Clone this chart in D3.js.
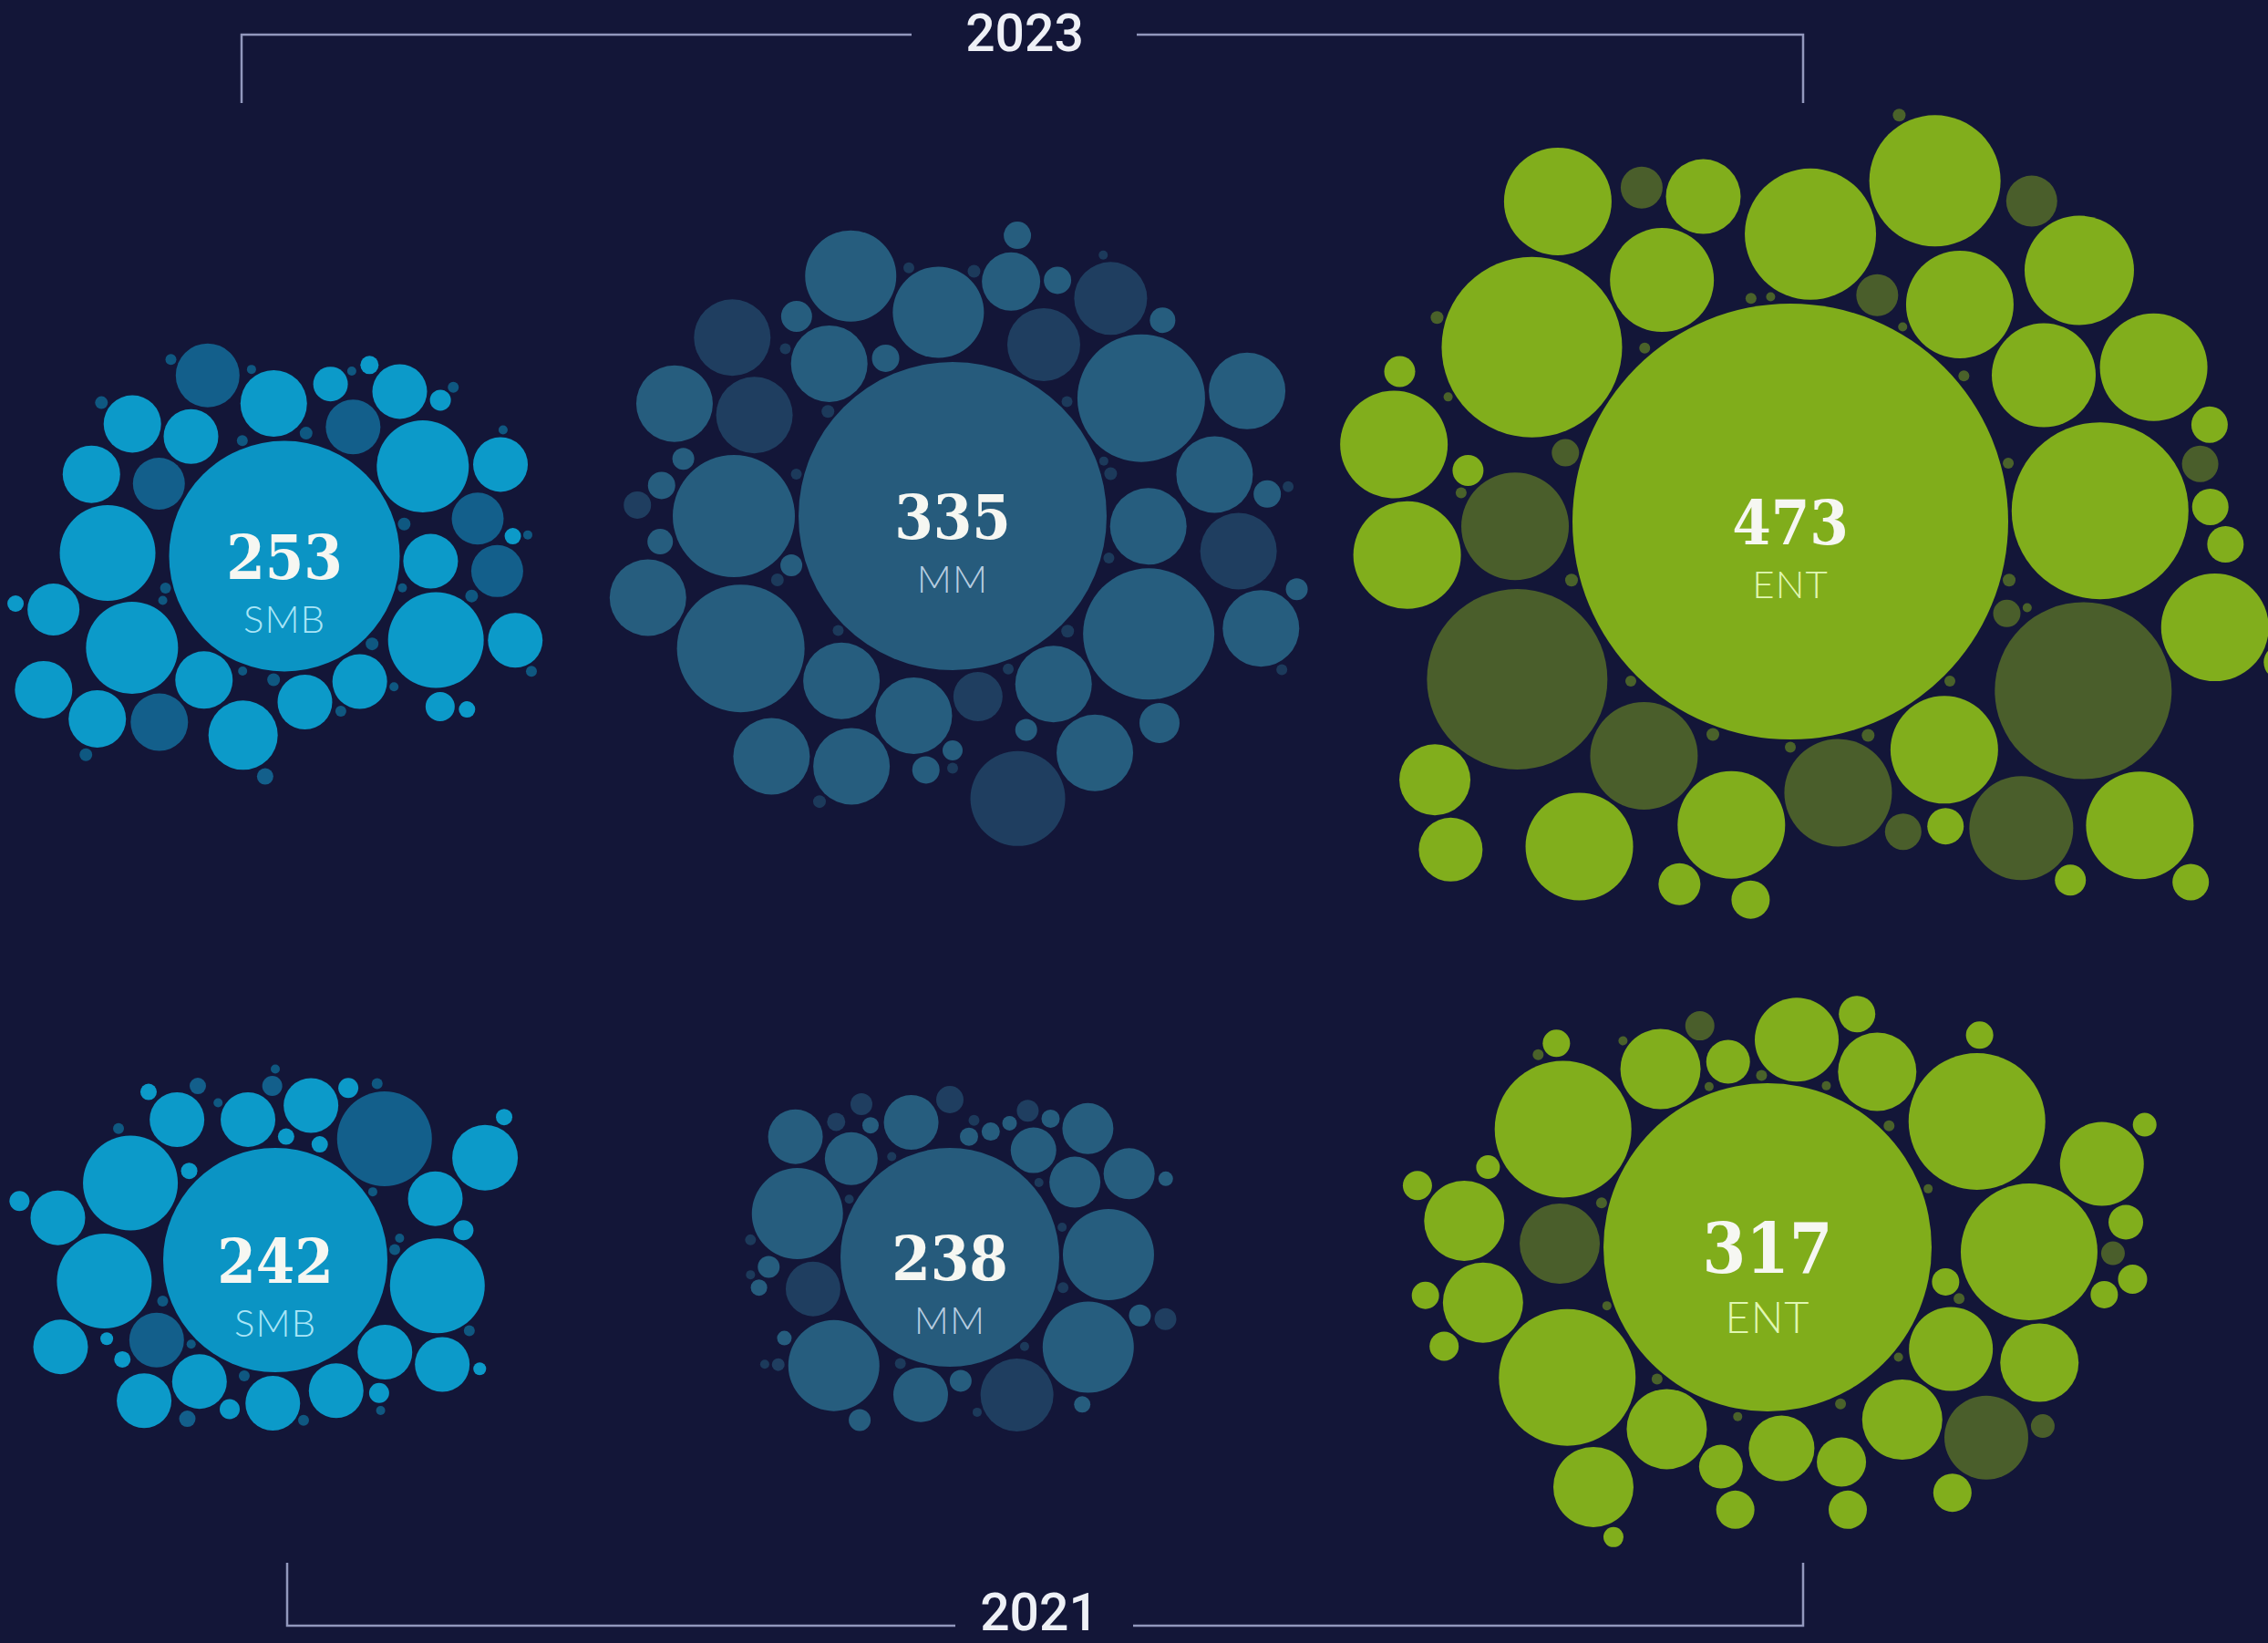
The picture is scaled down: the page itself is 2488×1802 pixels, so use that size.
<!DOCTYPE html>
<meta charset="utf-8">
<style>
  body { margin: 0; background: #131638; }
  svg { display: block; }
  .num {
    font-family: "DejaVu Serif Condensed", "DejaVu Serif", serif;
    font-stretch: condensed;
    font-weight: bold;
    font-size: 68px;
    fill: #f6f7f2;
    text-anchor: middle;
  }
  .seg {
    font-family: Lato, "Open Sans", sans-serif;
    font-weight: 300;
    font-size: 42px;
    letter-spacing: 1px;
    text-anchor: middle;
  }
  .year {
    font-family: Roboto, sans-serif;
    font-weight: 500;
    font-size: 57px;
    fill: #eef0f6;
    text-anchor: middle;
  }
  .bracket { fill: none; stroke: #9298bd; stroke-width: 2.5; }
</style>
<body>
<script src="https://d3js.org/d3.v7.min.js"></script>
<script>
var width = 2488, height = 1802;

var segments = ['SMB', 'MM', 'ENT'];
var years = ['2023', '2021'];
var totals2023 = [253, 335, 473];
var totals2021 = [242, 238, 317];
// size of the centre bubble as drawn (same units as the satellites)
var coreSize2023 = [253, 338, 478];
var coreSize2021 = [246, 240, 360];

// satellites: [angle in degrees (0 = east, clockwise), size, shade]
// shade 0 = segment colour, 1 = dark, 2 = faint filler dot
// listed in placement order: inner ring, outer ring, small, filler
var smb2023 = [
  [-94,73,0],[-62,60,1],[-33,101,0],[2,60,0],[29,105,0],[59,60,0],[82,60,0],[123,63,0],[149,101,0],[-179,105,0],[-150,57,1],[-128,60,0],
  [-113,70,1],[-75,38,0],[-55,60,0],[-23,60,0],[-11,57,1],[4,57,1],[20,60,0],[44,32,0],[103,76,0],[127,63,1],[139,63,0],[151,63,0],[167,57,0],[-157,63,0],[-139,63,0],
  [-45,23,0],[-66,20,0],[170,18,0],[95,18,1],[40,18,0],[-5,18,0],
  [-140,14,2],[-110,12,2],[-80,14,2],[-70,10,2],[-45,12,2],[-15,14,2],[-5,10,2],[12,14,2],[15,10,2],[45,14,2],[50,10,2],[70,12,2],[95,14,2],[110,10,2],[135,14,2],[165,12,2],[-100,10,2],[-30,10,2],[25,12,2],[160,10,2],[-120,12,2]
];
var mm2023 = [
  [-94,100,0],[-62,80,1],[-32,140,0],[3,84,0],[31,144,0],[59,84,0],[82,54,1],[101,84,0],[124,84,0],[148,140,0],[180,134,0],[-153,84,1],[-129,84,0],
  [-113,100,0],[-76,64,0],[-66,30,0],[-54,80,1],[-23,84,0],[-9,84,0],[7,84,1],[20,84,0],[45,44,0],[59,84,0],[77,104,1],[112,84,0],[127,84,0],[165,84,0],[-158,84,0],[-141,84,1],
  [-128,34,0],[-113,30,0],[-77,30,0],[-43,28,0],[-4,30,0],[12,24,0],[71,24,0],[90,22,0],[96,30,0],[-174,30,0],[-178,30,1],[175,28,0],[-168,24,0],[163,24,0],
  [-140,14,2],[-100,12,2],[-85,14,2],[-45,12,2],[-15,14,2],[-5,12,2],[15,12,2],[45,14,2],[70,12,2],[90,12,2],[115,14,2],[135,12,2],[160,14,2],[-165,12,2],[-135,12,2],[-60,10,2],[25,12,2],[-20,10,2]
];
var ent2023 = [
  [-146,198,0],[-118,114,0],[-86,144,0],[-52,118,0],[-30,114,0],[-2,194,0],[30,194,1],[56,118,0],[80,118,1],[122,118,1],[150,198,1],[179,118,1],
  [-126,118,0],[-105,82,0],[-67,144,0],[-41,120,0],[-23,118,0],[14,118,0],[41,118,0],[53,114,1],[101,118,0],[123,118,0],[144,78,0],[136,70,0],[175,118,0],[-169,118,0],
  [-2,40,0],[3,40,0],[-8,40,1],[-13,40,0],[63,40,0],[70,40,1],[96,42,0],[107,46,0],[-53,56,1],[-69,46,1],[-114,46,1],[-163,30,1],[23,30,1],[52,34,0],[-171,34,0],[42,40,0],[16,38,0],[-159,34,0],
  [-150,14,2],[-130,12,2],[-100,12,2],[-75,14,2],[-40,12,2],[-15,12,2],[15,14,2],[20,10,2],[45,12,2],[70,14,2],[90,12,2],[110,14,2],[135,12,2],[165,14,2],[-175,12,2],[-160,10,2],[-95,10,2],[-60,10,2]
];
var smb2021 = [
  [-152,104,0],[-125,60,0],[-101,60,0],[-48,104,1],[-21,60,0],[9,104,0],[40,60,0],[65,60,0],[91,60,0],[122,60,0],[146,60,1],[173,104,0],
  [-85,18,0],[-69,18,0],
  [-77,60,0],[-26,72,0],[32,60,0],[133,60,0],[158,60,0],[-169,60,0],
  [-67,22,0],[-91,22,1],[52,22,0],[-167,22,0],[-134,18,0],[-9,22,0],[107,22,0],[119,18,1],[-114,18,1],[-127,18,0],[-32,18,0],[28,14,0],[155,14,0],[147,18,0],
  [-140,12,2],[-110,10,2],[-60,12,2],[-35,10,2],[-5,12,2],[20,12,2],[55,10,2],[80,12,2],[105,12,2],[135,10,2],[160,12,2],[-90,10,2],[-10,10,2]
];
var mm2021 = [
  [-164,100,0],[-135,58,0],[-106,60,0],[-52,50,0],[-31,56,0],[-1,100,0],[33,100,0],[64,80,1],[102,60,0],[137,100,0],[167,60,1],
  [-142,60,0],[-43,56,0],[-25,56,0],
  [177,24,0],[-90,30,1],[-81,20,0],[-72,20,0],[-66,16,0],[-54,20,0],[-121,18,0],[-120,24,1],[-130,20,1],[17,24,0],[16,24,1],[119,24,0],[85,24,0],[48,18,0],[148,14,1],[154,16,0],[-20,16,0],[-62,24,1],[171,18,0],
  [-150,10,2],[-120,10,2],[-80,12,2],[-40,10,2],[-15,10,2],[15,12,2],[50,10,2],[80,10,2],[115,12,2],[150,10,2],[175,10,2],[-175,12,2]
];
var ent2021 = [
  [-150,150,0],[-121,88,0],[-102,48,0],[-82,92,0],[-58,86,0],[-31,150,0],[1,150,0],[29,92,0],[52,88,0],[86,72,0],[119,88,0],[147,150,0],[-179,88,1],
  [-69,40,0],[-14,92,0],[23,86,0],[41,92,1],[71,54,0],[102,48,0],[126,88,0],[169,88,0],[-175,88,0],
  [1,26,1],[-4,38,0],[-18,26,0],[8,30,0],[5,32,0],[-107,32,1],[-136,30,0],[53,42,0],[97,42,0],[73,42,0],[-164,26,0],[-170,32,0],[163,32,0],[172,30,0],[11,30,0],[33,26,1],[-45,30,0],[118,22,0],
  [-140,12,2],[-110,10,2],[-92,12,2],[-70,10,2],[-45,12,2],[-20,10,2],[15,12,2],[40,10,2],[65,12,2],[100,10,2],[130,12,2],[160,10,2],[-165,12,2],[-125,10,2]
];

var satellites = {
  '2023': { SMB: smb2023, MM: mm2023, ENT: ent2023 },
  '2021': { SMB: smb2021, MM: mm2021, ENT: ent2021 }
};

// where each cluster's centre bubble sits on the page
var anchor = {
  '2023': { SMB: [312, 610], MM: [1045, 566], ENT: [1964, 572] },
  '2021': { SMB: [302, 1382], MM: [1042, 1379], ENT: [1939, 1368] }
};

var palette = {
  SMB: { core: '#0b94c4', light: '#0c9ac9', dark: '#135f8b', label: '#a9e5f7' },
  MM:  { core: '#265b7c', light: '#265d7e', dark: '#1f3e60', label: '#b7cde0' },
  ENT: { core: '#80ad1b', light: '#81ae1c', dark: '#4a5e2b', label: '#e0f7b2' }
};

var rScale = d3.scaleLinear().domain([0, 500]).range([0, 250]);

// place each satellite on its bearing, as close to the centre as it fits
function place(R, items) {
  var placed = [{ x: 0, y: 0, r: R }];
  var out = [];
  items.forEach(function (d) {
    var a = d[0] * Math.PI / 180, r = rScale(d[1]);
    var gap = d[2] === 2 ? 2.5 : 4;
    for (var dist = R + r + gap; dist < R + 900; dist += 1) {
      var x = dist * Math.cos(a), y = dist * Math.sin(a);
      var ok = placed.every(function (p) {
        return Math.hypot(p.x - x, p.y - y) >= p.r + r + gap;
      });
      if (ok) {
        var c = { x: x, y: y, r: r, shade: d[2] };
        placed.push(c);
        out.push(c);
        break;
      }
    }
  });
  return out;
}

var clusters = [];
years.forEach(function (yr) {
  var totals = yr === '2023' ? totals2023 : totals2021;
  var cores = yr === '2023' ? coreSize2023 : coreSize2021;
  segments.forEach(function (s, i) {
    clusters.push({ year: yr, seg: s, total: totals[i], core: cores[i] });
  });
});

var svg = d3.select('body').append('svg')
    .attr('width', width)
    .attr('height', height);

svg.append('rect')
    .attr('width', width)
    .attr('height', height)
    .attr('fill', '#131638');

var g = svg.selectAll('g.cluster')
    .data(clusters)
  .enter().append('g')
    .attr('class', 'cluster')
    .attr('transform', function (d) {
      var p = anchor[d.year][d.seg];
      return 'translate(' + p[0] + ',' + p[1] + ')';
    });

g.each(function (d) {
  var R = rScale(d.core);
  var col = palette[d.seg];
  var sel = d3.select(this);
  var sats = place(R, satellites[d.year][d.seg]);

  sel.selectAll('circle.sat')
      .data(sats)
    .enter().append('circle')
      .attr('class', 'sat')
      .attr('cx', function (c) { return c.x; })
      .attr('cy', function (c) { return c.y; })
      .attr('r', function (c) { return c.r; })
      .attr('fill', function (c) { return c.shade === 1 ? col.dark : col.light; })
      .attr('opacity', function (c) { return c.shade === 2 ? 0.5 : 1; });

  sel.append('circle')
      .attr('r', R)
      .attr('fill', col.core);

  // the larger 2021 ENT bubble carries slightly larger type
  var k = d.year === '2021' && d.seg === 'ENT' ? 1.12 : 1;

  sel.append('text')
      .attr('class', 'num')
      .attr('y', 25 * k)
      .style('font-size', (68 * k) + 'px')
      .text(d.total);

  sel.append('text')
      .attr('class', 'seg')
      .attr('y', 84 * k)
      .style('fill', col.label)
      .style('font-size', (42 * k) + 'px')
      .text(d.seg);
});

// year brackets
var topPath = d3.path();
topPath.moveTo(265, 113); topPath.lineTo(265, 38); topPath.lineTo(1000, 38);
topPath.moveTo(1247, 38); topPath.lineTo(1978, 38); topPath.lineTo(1978, 113);
svg.append('path').attr('class', 'bracket').attr('d', topPath.toString());

var bottomPath = d3.path();
bottomPath.moveTo(315, 1714); bottomPath.lineTo(315, 1783); bottomPath.lineTo(1048, 1783);
bottomPath.moveTo(1243, 1783); bottomPath.lineTo(1978, 1783); bottomPath.lineTo(1978, 1714);
svg.append('path').attr('class', 'bracket').attr('d', bottomPath.toString());

svg.append('text').attr('class', 'year').attr('x', 1124).attr('y', 56).text(years[0]);
svg.append('text').attr('class', 'year').attr('x', 1140).attr('y', 1788).text(years[1]);
</script>
</body>
